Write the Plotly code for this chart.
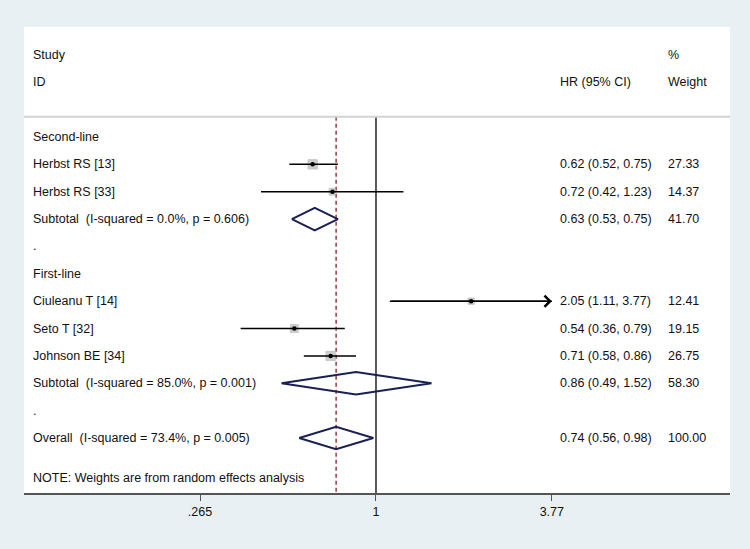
import numpy as np
import plotly.graph_objects as go

# ---------------- data ----------------
study_labels = ["Herbst RS [13]", "Herbst RS [33]", "Ciuleanu T [14]", "Seto T [32]", "Johnson BE [34]"]
study_rows = [4, 5, 9, 10, 11]
study_hr = [0.62, 0.72, 2.05, 0.54, 0.71]
study_lo = [0.52, 0.42, 1.11, 0.36, 0.58]
study_hi = [0.75, 1.23, 3.77, 0.79, 0.86]
study_weight = [27.33, 14.37, 12.41, 19.15, 26.75]

pooled_labels = ["Subtotal\u00a0 (I-squared = 0.0%, p = 0.606)",
                 "Subtotal\u00a0 (I-squared = 85.0%, p = 0.001)",
                 "Overall\u00a0 (I-squared = 73.4%, p = 0.005)"]
pooled_rows = [6, 12, 14]
pooled_hr = [0.63, 0.86, 0.74]
pooled_lo = [0.53, 0.49, 0.56]
pooled_hi = [0.75, 1.52, 0.98]
pooled_weight = [41.70, 58.30, 100.00]

group_labels = ["Second-line", ".", "First-line", "."]
group_rows = [3, 7, 8, 13]

tick_vals = [0.265, 1, 3.77]
tick_text = [".265", "1", "3.77"]

note_text = "NOTE: Weights are from random effects analysis"
overall_hr = pooled_hr[-1]
arrow_studies = ["Ciuleanu T [14]"]

# ---------------- styling ----------------
FONT = "Arial, Liberation Sans, sans-serif"
FS = 12.5
TXT = "#111111"
NAVY = "#1a1f55"
MAROON = "#8c1c1c"
TOP_ROW = 2.26
AXIS_ROW = 16.01
X_LEFT = 0.0099   # paper coordinate for left text column
X_HR = 0.7564
X_W = 0.9093

fig = go.Figure()

# reference lines
fig.add_trace(go.Scatter(x=[1, 1], y=[TOP_ROW, AXIS_ROW], mode="lines",
                         line=dict(color="black", width=1.3), hoverinfo="skip", showlegend=False))
fig.add_trace(go.Scatter(x=[overall_hr, overall_hr], y=[TOP_ROW, AXIS_ROW], mode="lines",
                         line=dict(color=MAROON, width=1.3, dash="4px,3px"), hoverinfo="skip", showlegend=False))

# weight boxes
box_sizes = [1.8 * np.sqrt(w) for w in study_weight]
fig.add_trace(go.Scatter(x=study_hr, y=study_rows, mode="markers",
                         marker=dict(symbol="square", size=box_sizes, color="#b9b9b9",
                                     line=dict(color="#a8a8a8", width=0.8)),
                         hoverinfo="skip", showlegend=False))

# CI lines
cx, cy = [], []
for lo, hi, r in zip(study_lo, study_hi, study_rows):
    cx += [lo, hi, None]
    cy += [r, r, None]
fig.add_trace(go.Scatter(x=cx, y=cy, mode="lines", line=dict(color="black", width=1.5),
                         hoverinfo="skip", showlegend=False))

# point estimates
fig.add_trace(go.Scatter(x=study_hr, y=study_rows, mode="markers",
                         marker=dict(symbol="circle", size=4.5, color="black"),
                         hoverinfo="skip", showlegend=False))

# diamonds
H = 0.41
for est, lo, hi, r in zip(pooled_hr, pooled_lo, pooled_hi, pooled_rows):
    fig.add_trace(go.Scatter(x=[lo, est, hi, est, lo], y=[r, r - H, r, r + H, r],
                             mode="lines", line=dict(color=NAVY, width=2),
                             hoverinfo="skip", showlegend=False))

annotations = []

def txt(x, y, s):
    annotations.append(dict(x=x, y=y, xref="paper", yref="y", text=s, showarrow=False,
                            xanchor="left", yanchor="middle",
                            font=dict(family=FONT, size=FS, color=TXT)))

# headers
txt(X_LEFT, 0, "Study")
txt(X_LEFT, 1, "ID")
txt(X_HR, 1, "HR (95% CI)")
txt(X_W, 0, "%")
txt(X_W, 1, "Weight")

for lab, r in zip(group_labels, group_rows):
    txt(X_LEFT, r, lab)

for lab, r, e, lo, hi, w in zip(study_labels, study_rows, study_hr, study_lo, study_hi, study_weight):
    txt(X_LEFT, r, lab)
    txt(X_HR, r, f"{e:.2f} ({lo:.2f}, {hi:.2f})")
    txt(X_W, r, f"{w:.2f}")

for lab, r, e, lo, hi, w in zip(pooled_labels, pooled_rows, pooled_hr, pooled_lo, pooled_hi, pooled_weight):
    txt(X_LEFT, r, lab)
    txt(X_HR, r, f"{e:.2f} ({lo:.2f}, {hi:.2f})")
    txt(X_W, r, f"{w:.2f}")

txt(X_LEFT, 15.47, note_text)

# arrow heads for truncated CIs
for lab, lo, hi, r in zip(study_labels, study_lo, study_hi, study_rows):
    if lab in arrow_studies:
        annotations.append(dict(x=np.log10(hi), y=r, ax=np.log10(lo), ay=r,
                                xref="x", yref="y", axref="x", ayref="y",
                                text="", showarrow=True, arrowhead=4, arrowsize=1.45,
                                arrowwidth=1.5, arrowcolor="black"))

fig.update_layout(
    width=750, height=549,
    margin=dict(l=24, r=20, t=27, b=56),
    paper_bgcolor="#e9f0f3",
    plot_bgcolor="white",
    showlegend=False,
    annotations=annotations,
    shapes=[dict(type="line", xref="paper", yref="y", x0=0, x1=1, y0=TOP_ROW, y1=TOP_ROW,
                 line=dict(color="#d2d2d2", width=2))],
    xaxis=dict(type="log", range=[-1.1537, 1.1603], tickvals=tick_vals, ticktext=tick_text,
               showgrid=False, zeroline=False, showline=True, linecolor="#555555", linewidth=2,
               ticks="outside", ticklen=6, tickwidth=1.2, tickcolor="#555555",
               tickfont=dict(family=FONT, size=FS, color=TXT), fixedrange=True),
    yaxis=dict(range=[AXIS_ROW, -1.02], visible=False, fixedrange=True),
)

fig.write_html("out.html", config={"displayModeBar": False},
               post_script="document.body.style.margin='0';document.body.style.overflow='hidden';")
